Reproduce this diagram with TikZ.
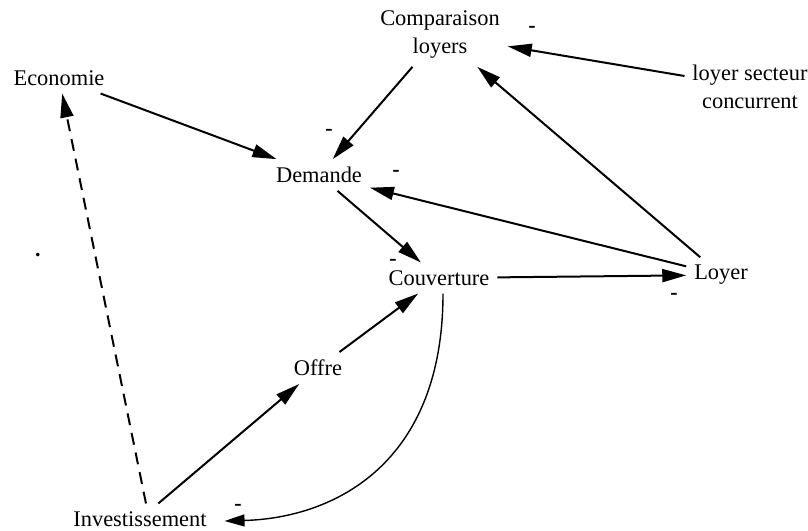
\documentclass[tikz,border=0pt]{standalone}
\usepackage{fontspec}
\setmainfont{Liberation Serif}
\usetikzlibrary{arrows.meta}
\begin{document}
\begin{tikzpicture}[x=0.5pt,y=-0.5pt,
  var/.style={font=\fontsize{11.2}{14}\selectfont, align=center, inner sep=2pt, outer sep=2pt},
  link/.style={line width=1pt, -{Triangle[length=12pt,width=6.5pt]}},
  sign/.style={font=\fontsize{11}{14}\selectfont\bfseries, inner sep=0pt}]
\useasboundingbox (0,0) rectangle (808,530);

% variables of the loop diagram
\node[var] (econ) at (59,78)   {Economie};
\node[var] (comp) at (440,35)  {Comparaison\\loyers};
\node[var] (conc) at (750,87)  {loyer secteur\\concurrent};
\node[var] (dem)  at (319,175) {Demande};
\node[var] (cou)  at (439,278) {Couverture};
\node[var] (loy)  at (721,275) {Loyer};
\node[var] (off)  at (318,368) {Offre};
\node[var] (inv)  at (140,519) {Investissement};

% causal links
\draw[link] (econ) -- (dem);
\draw[link] (comp) -- (dem);
\draw[link] (conc) -- (comp);
\draw[link] (loy) -- (comp);
\draw[link] (loy) -- (dem);
\draw[link] (dem) -- (cou);
\draw[link] (cou) -- (loy);
\draw[link] (off) -- (cou);
\draw[link] (inv) -- (off);
\draw[link, dashed, dash pattern=on 6pt off 4pt]
  ([xshift=3pt]inv.north) -- (econ);
\draw[line width=0.7pt, -{Triangle[length=10pt,width=6pt]}]
  ([xshift=2pt]cou.south) .. controls +(0,170) and +(110,-3) .. ([xshift=5pt,yshift=-1pt]inv.east);

% negative polarity marks
\node[sign] (s1) at (532,29)  {-};
\node[sign] (s2) at (329,132) {-};
\node[sign] (s3) at (396,173) {-};
\node[sign] (s4) at (393,262) {-};
\node[sign] (s5) at (674,296) {-};
\node[sign] (s6) at (238,507) {-};
\node[sign] (s7) at (38,255)  {.};
\end{tikzpicture}
\end{document}
